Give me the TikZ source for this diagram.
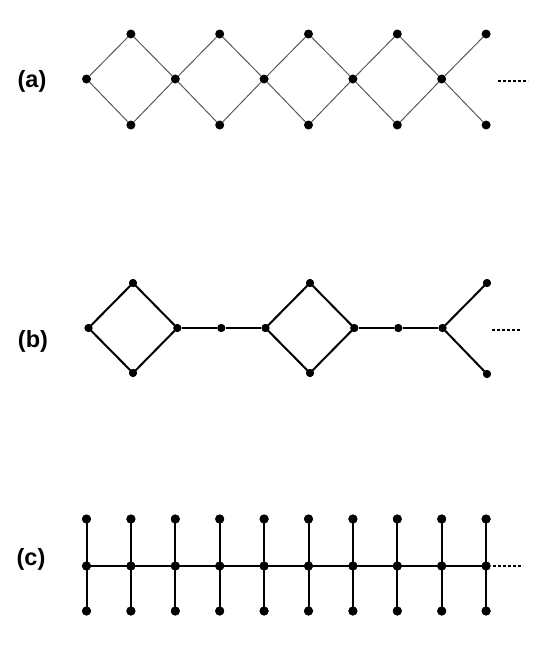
\documentclass[tikz,border=0pt]{standalone}
\usepackage{fontspec}
\setmainfont{Liberation Sans}
\begin{document}
\begin{tikzpicture}[x=1pt,y=-1pt,
  dot/.style={circle,fill=black,inner sep=0pt,minimum size=9pt},
  bdot/.style={circle,fill=black,inner sep=0pt,minimum size=8pt},
  lbl/.style={font=\fontsize{23.5}{25}\selectfont\bfseries},
  thin edge/.style={draw=gray!70!black,line width=1pt},
  thick edge/.style={draw=black,line width=2pt},
  more/.style={draw=black,line width=1.4pt,dash pattern=on 3pt off 2pt}]
\useasboundingbox (0,0) rectangle (545,648);
\def\xs{86.5}\def\st{44.4}
% ---------- (a)
\node[lbl] (la) at (32,81) {(a)};
\foreach \i in {0,...,9}{
  \pgfmathsetmacro\xx{\xs+\i*\st}
  \ifodd\i
    \node[dot] (at\i) at (\xx,34) {};
    \node[dot] (ab\i) at (\xx,125) {};
  \else
    \node[dot] (am\i) at (\xx,79) {};
  \fi
}
\foreach \i/\j in {0/1,2/3,4/5,6/7,8/9}{
  \draw[thin edge] (am\i) -- (at\j);
  \draw[thin edge] (am\i) -- (ab\j);
}
\foreach \i/\j in {1/2,3/4,5/6,7/8}{
  \draw[thin edge] (at\i) -- (am\j);
  \draw[thin edge] (ab\i) -- (am\j);
}
\coordinate (ae1) at (498,81);
\coordinate (ae2) at (528,81);
\draw[more] (ae1) -- (ae2);
% ---------- (b)
\node[lbl] (lb) at (33,341) {(b)};
\node[bdot] (b0) at (88.5,328) {};
\node[bdot] (bt1) at (133,283) {};
\node[bdot] (bb1) at (133,373) {};
\node[bdot] (b2) at (177.3,328) {};
\node[bdot] (b3) at (221.3,328) {};
\node[bdot] (b4) at (265.5,328) {};
\node[bdot] (bt5) at (310,283) {};
\node[bdot] (bb5) at (310,373) {};
\node[bdot] (b6) at (354.3,328) {};
\node[bdot] (b7) at (398.3,328) {};
\node[bdot] (b8) at (442.5,328) {};
\node[bdot] (bt9) at (487,283) {};
\node[bdot] (bb9) at (487,374) {};
\draw[thick edge] (b0.center) -- (bt1.center) -- (b2.center) -- (bb1.center) -- cycle;
\draw[thick edge] (b2) -- (b3) -- (b4);
\draw[thick edge] (b4.center) -- (bt5.center) -- (b6.center) -- (bb5.center) -- cycle;
\draw[thick edge] (b6) -- (b7) -- (b8);
\draw[thick edge] (b8.center) -- (bt9.center);
\draw[thick edge] (b8.center) -- (bb9.center);
\coordinate (be1) at (492,330);
\coordinate (be2) at (521,330);
\draw[more] (be1) -- (be2);
% ---------- (c)
\node[lbl] (lc) at (31,559) {(c)};
\foreach \i in {0,...,9}{
  \pgfmathsetmacro\xx{\xs+\i*\st}
  \node[dot] (ct\i) at (\xx,519) {};
  \node[dot] (cm\i) at (\xx,566) {};
  \node[dot] (cb\i) at (\xx,611) {};
  \draw[thick edge] (ct\i.center) -- (cm\i.center) -- (cb\i.center);
}
\draw[thick edge] (cm0.center) -- (cm9.center);
\coordinate (ce1) at (493,566);
\coordinate (ce2) at (523,566);
\draw[more] (ce1) -- (ce2);
% dots on top of the lines
\foreach \i in {0,...,9}{
  \fill (ct\i) circle (4.5pt);
  \fill (cm\i) circle (4.5pt);
  \fill (cb\i) circle (4.5pt);
}
\foreach \n in {b0,bt1,bb1,b2,b3,b4,bt5,bb5,b6,b7,b8,bt9,bb9}{
  \fill (\n) circle (4pt);
}
\end{tikzpicture}
\end{document}
